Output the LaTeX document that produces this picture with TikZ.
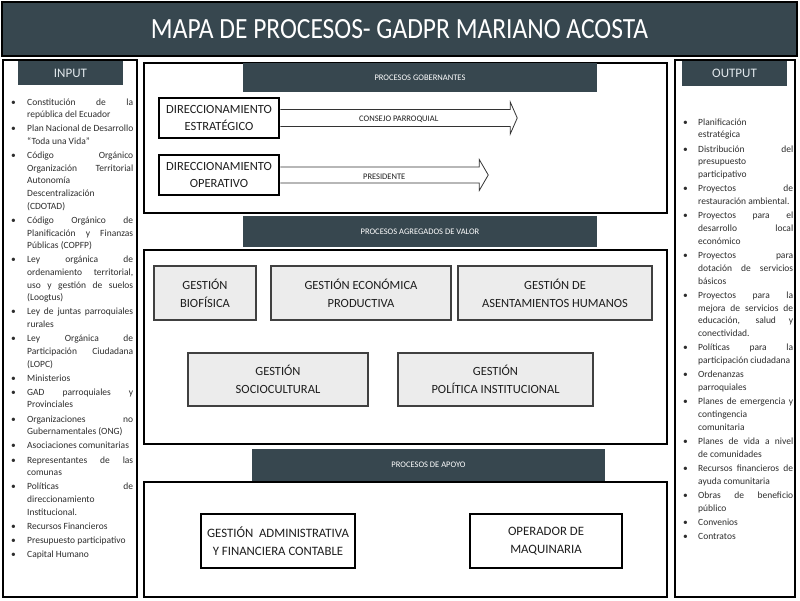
\documentclass[tikz,border=0pt]{standalone}
\usepackage{fontspec}
\setmainfont{Carlito}
\usetikzlibrary{calc}
\definecolor{hdr}{RGB}{55,71,79}
\definecolor{hdrtxt}{RGB}{225,232,236}
\definecolor{gbox}{RGB}{236,236,236}
\definecolor{txt}{RGB}{30,30,30}
\definecolor{lsttxt}{RGB}{45,45,45}

\newlength\lw
\newlength\bi
\newcommand\jline[1]{\hbox to \lw{\spaceskip=0.226em plus 1fil\relax #1}}
\newcommand\lline[1]{\hbox to \lw{#1\hfil}}
\newcommand\BJ[1]{\hbox{\hbox to \bi{\textbullet\hfil}\jline{#1}}}
\newcommand\BL[1]{\hbox{\hbox to \bi{\textbullet\hfil}\lline{#1}}}
\newcommand\CJ[1]{\hbox{\hskip\bi\jline{#1}}}
\newcommand\CL[1]{\hbox{\hskip\bi\lline{#1}}}
\newcommand\G{\vskip1.5pt}

\tikzset{
  outerbox/.style={draw=black, line width=2pt, fill=white, inner sep=0pt},
  hdrbar/.style={fill=hdr, inner sep=0pt, text=white, font=\fontsize{8.5}{10}\selectfont},
  colhdr/.style={fill=hdr, inner sep=0pt, text=hdrtxt, font=\fontsize{13}{15}\selectfont},
  dirbox/.style={draw=black, line width=2.5pt, fill=white, inner sep=0pt, align=center, text=txt, font=\fontsize{12.5}{17.6}\selectfont},
  gesbox/.style={draw=black!75, line width=1.5pt, fill=gbox, inner sep=0pt, align=center, text=txt, font=\fontsize{12.5}{18}\selectfont},
  apobox/.style={draw=black, line width=2pt, fill=white, inner sep=0pt, align=center, text=txt, font=\fontsize{12.8}{18.6}\selectfont},
  arrowline/.style={draw=black!80, line width=0.8pt, fill=white},
  arrlbl/.style={inner sep=0pt, text=txt, font=\fontsize{8.5}{10}\selectfont},
  listnode/.style={inner sep=0pt, anchor=base west, text=lsttxt}
}

\begin{document}
\begin{tikzpicture}[x=1pt,y=-1pt]
\useasboundingbox[fill=white] (0,0) rectangle (800,600);

% title
\node[draw=black, line width=1.2pt, fill=hdr, inner sep=0pt, minimum width=795pt, minimum height=54pt,
      text=white, font=\fontsize{25.5}{28}\selectfont] (title) at (399.5,29) {\scalebox{1}[1.15]{MAPA DE PROCESOS- GADPR MARIANO ACOSTA}};

% input column
\node[outerbox, minimum width=134pt, minimum height=537pt] (incol) at (70,328.5) {};
\node[colhdr, minimum width=105pt, minimum height=24pt] (inhdr) at (70.5,73) {INPUT};

% output column
\node[outerbox, minimum width=120pt, minimum height=537pt] (outcol) at (735,328.5) {};
\node[colhdr, minimum width=105pt, minimum height=25pt] (outhdr) at (734.5,73.5) {OUTPUT};

% gobernantes
\node[outerbox, minimum width=523pt, minimum height=150pt] (gob) at (405.5,138) {};
\node[hdrbar, minimum width=354pt, minimum height=29pt] (gobhdr) at (420,77.5) {PROCESOS GOBERNANTES};
\node[dirbox, minimum width=120pt, minimum height=40pt] (de) at (219,118) {DIRECCIONAMIENTO\\ESTRATÉGICO};
\node[dirbox, minimum width=120pt, minimum height=40pt] (do) at (219,175) {DIRECCIONAMIENTO\\OPERATIVO};

\coordinate (a1tip) at ($(de.east)+(237,0)$);
\draw[arrowline] ($(de.east)+(0,-8.5)$) -- ++(230,0) -- ++(0,-7.5) -- (a1tip) -- ($(de.east)+(230,16)$) -- ++(0,-7.5) -- ($(de.east)+(0,8.5)$);
\node[arrlbl] (l1) at ($(de.east)!0.5!(a1tip)+(0,1.5)$) {CONSEJO PARROQUIAL};

\coordinate (a2tip) at ($(do.east)+(208,0)$);
\draw[arrowline] ($(do.east)+(0,-8)$) -- ++(199,0) -- ++(0,-7.5) -- (a2tip) -- ($(do.east)+(199,15.5)$) -- ++(0,-7.5) -- ($(do.east)+(0,8)$);
\node[arrlbl] (l2) at ($(do.east)!0.5!(a2tip)+(0,1.5)$) {PRESIDENTE};

% agregados de valor
\node[hdrbar, minimum width=354pt, minimum height=31pt] (valhdr) at (420,231.5) {PROCESOS AGREGADOS DE VALOR};
\node[outerbox, minimum width=523pt, minimum height=194pt] (val) at (405.5,347) {};
\node[gesbox, minimum width=102pt, minimum height=54pt] (g1) at (205,293) {GESTIÓN\\BIOFÍSICA};
\node[gesbox, minimum width=180pt, minimum height=54pt] (g2) at (361,293) {GESTIÓN ECONÓMICA\\PRODUCTIVA};
\node[gesbox, minimum width=194pt, minimum height=54pt] (g3) at (555,293) {GESTIÓN DE\\ASENTAMIENTOS HUMANOS};
\node[gesbox, minimum width=180pt, minimum height=53pt] (g4) at (278,379.5) {GESTIÓN\\SOCIOCULTURAL};
\node[gesbox, minimum width=195pt, minimum height=53pt] (g5) at (495.5,379.5) {GESTIÓN\\POLÍTICA INSTITUCIONAL};

% apoyo
\node[hdrbar, minimum width=353pt, minimum height=32pt] (apohdr) at (428.5,465) {PROCESOS DE APOYO};
\node[outerbox, minimum width=523pt, minimum height=115pt] (apo) at (405.5,539.5) {};
\node[apobox, minimum width=154pt, minimum height=54pt] (a1) at (278,541) {GESTIÓN~ ADMINISTRATIVA\\Y FINANCIERA CONTABLE};
\node[apobox, minimum width=152pt, minimum height=54pt] (a2) at (546,541) {OPERADOR DE\\MAQUINARIA};

% input list
\node[listnode] (inlist) at (11,105) {\setlength\lw{106pt}\setlength\bi{16pt}%
\begin{minipage}[t]{122pt}\fontsize{9.5}{12.65}\selectfont
\BJ{Constitución de la}
\CL{república del Ecuador}
\G\BJ{Plan Nacional de Desarrollo}
\CL{“Toda una Vida”}
\G\BJ{Código Orgánico}
\CJ{Organización Territorial}
\CL{Autonomía}
\CL{Descentralización}
\CL{(CDOTAD)}
\G\BJ{Código Orgánico de}
\CJ{Planificación y Finanzas}
\CL{Públicas (COPFP)}
\G\BJ{Ley orgánica de}
\CJ{ordenamiento territorial,}
\CJ{uso y gestión de suelos}
\CL{(Loogtus)}
\G\BJ{Ley de juntas parroquiales}
\CL{rurales}
\G\BJ{Ley Orgánica de}
\CJ{Participación Ciudadana}
\CL{(LOPC)}
\G\BL{Ministerios}
\G\BJ{GAD parroquiales y}
\CL{Provinciales}
\G\BJ{Organizaciones no}
\CL{Gubernamentales (ONG)}
\G\BL{Asociaciones comunitarias}
\G\BJ{Representantes de las}
\CL{comunas}
\G\BJ{Políticas de}
\CL{direccionamiento}
\CL{Institucional.}
\G\BL{Recursos Financieros}
\G\BL{Presupuesto participativo}
\G\BL{Capital Humano}
\end{minipage}};

% output list
\node[listnode] (outlist) at (683,125) {\setlength\lw{95pt}\setlength\bi{15pt}%
\begin{minipage}[t]{110pt}\fontsize{9.5}{12.75}\selectfont
\BL{Planificación}
\CL{estratégica}
\G\BJ{Distribución del}
\CL{presupuesto}
\CL{participativo}
\G\BJ{Proyectos de}
\CL{restauración ambiental.}
\G\BJ{Proyectos para el}
\CJ{desarrollo local}
\CL{económico}
\G\BJ{Proyectos para}
\CJ{dotación de servicios}
\CL{básicos}
\G\BJ{Proyectos para la}
\CJ{mejora de servicios de}
\CJ{educación, salud y}
\CL{conectividad.}
\G\BJ{Políticas para la}
\CL{participación ciudadana}
\G\BL{Ordenanzas}
\CL{parroquiales}
\G\BJ{Planes de emergencia y}
\CL{contingencia}
\CL{comunitaria}
\G\BJ{Planes de vida a nivel}
\CL{de comunidades}
\G\BJ{Recursos financieros de}
\CL{ayuda comunitaria}
\G\BJ{Obras de beneficio}
\CL{público}
\G\BL{Convenios}
\G\BL{Contratos}
\end{minipage}};
\end{tikzpicture}
\end{document}
